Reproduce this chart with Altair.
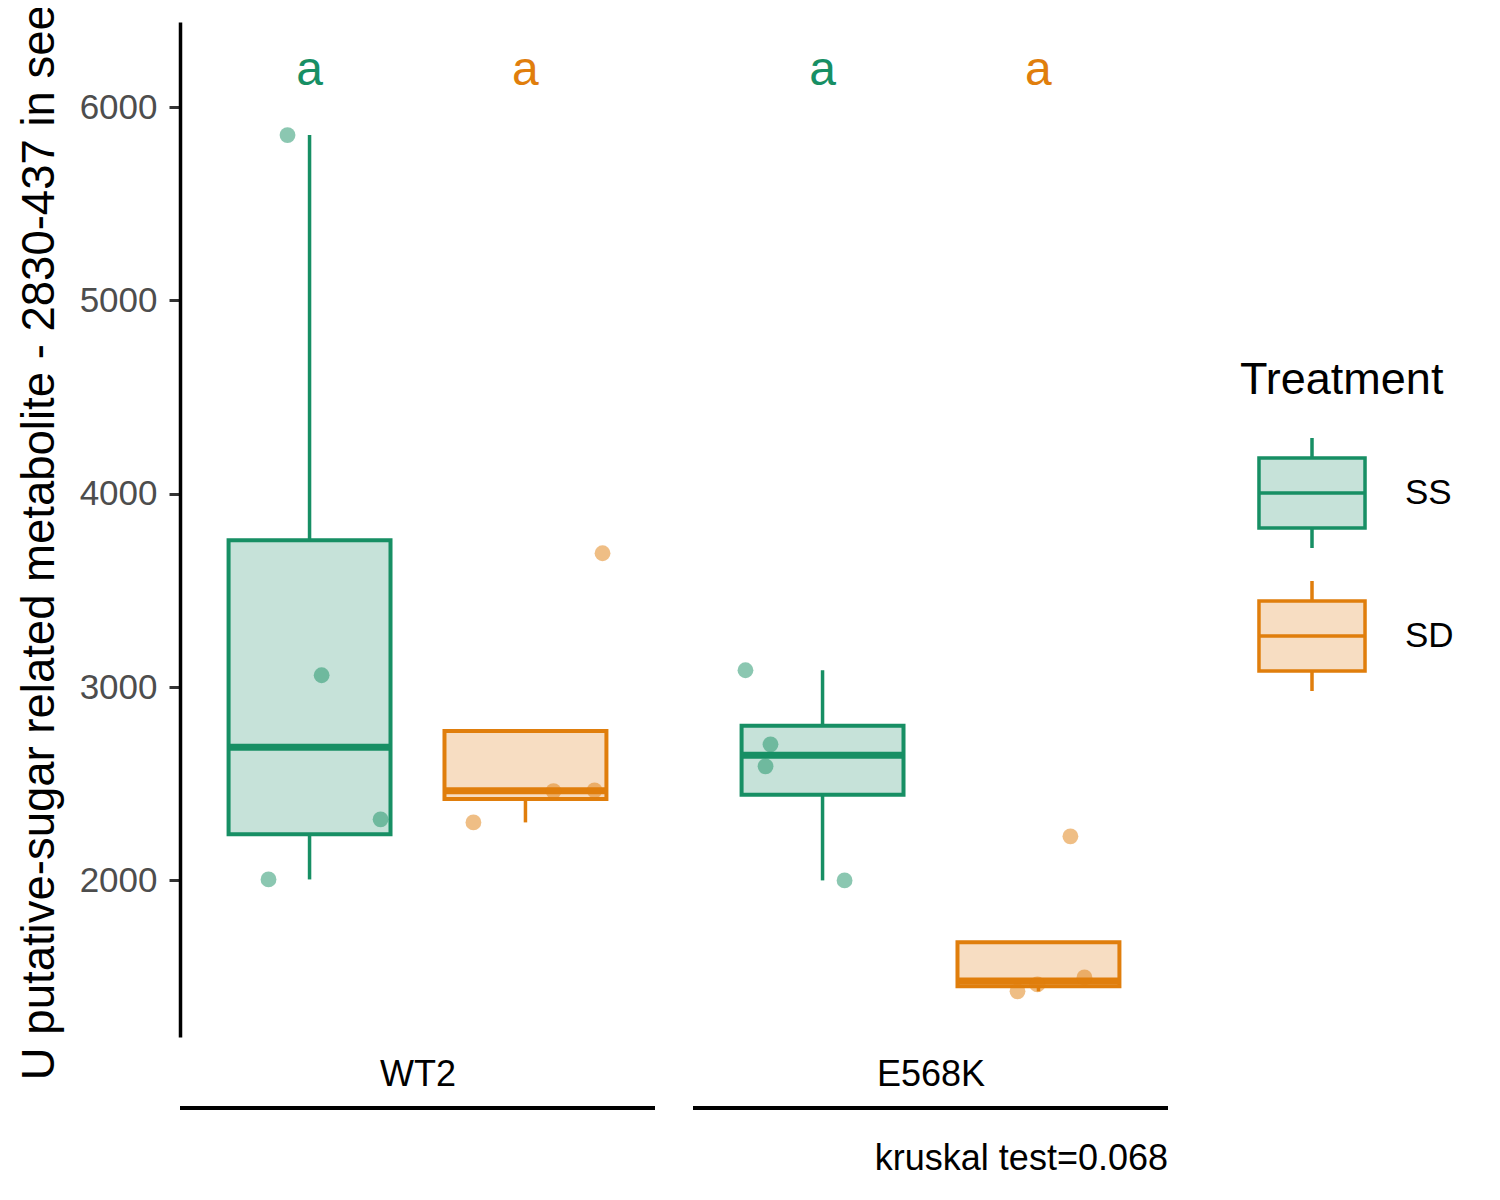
import altair as alt
import numpy as np
import pandas as pd

# ---- data ----
genotypes = ["WT2", "E568K"]
treatments = ["SS", "SD"]
values = {
    ("WT2", "SS"): [5855, 3061, 2316, 2005],
    ("WT2", "SD"): [3692, 2300, 2462, 2466],
    ("E568K", "SS"): [3087, 2704, 2590, 2000],
    ("E568K", "SD"): [2228, 1426, 1462, 1498],
}
jitter = {
    ("WT2", "SS"): [-0.102, 0.056, 0.329, -0.19],
    ("WT2", "SD"): [0.357, -0.241, 0.13, 0.32],
    ("E568K", "SS"): [-0.357, -0.241, -0.264, 0.102],
    ("E568K", "SD"): [0.148, -0.097, -0.005, 0.213],
}
letters = {("WT2", "SS"): "a", ("WT2", "SD"): "a", ("E568K", "SS"): "a", ("E568K", "SD"): "a"}
letter_y = 6186
y_title = "U putative-sugar related metabolite - 2830-437 in seed"
caption = "kruskal test=0.068"

dark = ["#178F64", "#E07E0C"]
light = ["#C6E2D9", "#F7DDC2"]
FONT = "Liberation Sans"

panel_shift = 2.376
box_half = 0.375


def pos(g, t):
    return genotypes.index(g) * panel_shift + 1 + treatments.index(t)


box_rows, whisk_rows, pt_rows, let_rows = [], [], [], []
for g in genotypes:
    for t in treatments:
        v = np.array(values[(g, t)], dtype=float)
        q1, med, q3 = np.quantile(v, [0.25, 0.5, 0.75])
        iqr = q3 - q1
        lo = v[v >= q1 - 1.5 * iqr].min()
        hi = v[v <= q3 + 1.5 * iqr].max()
        p = pos(g, t)
        box_rows.append(dict(Genotype=g, Treatment=t, x=p - box_half, x2=p + box_half,
                             q1=q1, med=med, q3=q3))
        if lo < q1:
            whisk_rows.append(dict(Treatment=t, x=p, y=lo, y2=q1))
        if hi > q3:
            whisk_rows.append(dict(Treatment=t, x=p, y=q3, y2=hi))
        for val, j in zip(values[(g, t)], jitter[(g, t)]):
            pt_rows.append(dict(Treatment=t, x=p + j, y=val))
        let_rows.append(dict(Treatment=t, x=p, y=letter_y, label=letters[(g, t)]))

boxes = pd.DataFrame(box_rows)
whisk = pd.DataFrame(whisk_rows)
pts = pd.DataFrame(pt_rows)
lets = pd.DataFrame(let_rows)
panels = pd.DataFrame([dict(Genotype=g, x=i * panel_shift + 0.4, x2=i * panel_shift + 2.6)
                       for i, g in enumerate(genotypes)])
centers = [i * panel_shift + 1.5 for i in range(len(genotypes))]

xdom = [0.4, panel_shift + 2.6]
xscale = alt.Scale(domain=xdom, nice=False, zero=False)
yscale = alt.Scale(domain=[1190, 6440], nice=False, zero=False)
# colour scale for points/lines/text: data-driven domain (kept apart from the legend scales)
cscale = alt.Scale(range=dark)

label_expr = "datum.value < %f ? '%s' : '%s'" % (panel_shift, genotypes[0], genotypes[1])

xaxis = alt.Axis(values=centers, labelExpr=label_expr, title=None, grid=False, ticks=False,
                 domain=False, labelFontSize=36, labelColor="black", labelFont=FONT,
                 labelPadding=20)
yaxis = alt.Axis(values=[2000, 3000, 4000, 5000, 6000], format="d", title=y_title, grid=False,
                 labelFontSize=35, labelColor="#4D4D4D", labelFont=FONT, labelPadding=12,
                 tickSize=11, tickWidth=3, tickColor="#333333",
                 domainColor="black", domainWidth=3.5,
                 titleFontSize=45.5, titleFontWeight="normal", titleColor="black",
                 titleFont=FONT, titlePadding=16)

legend_path = ("M-0.964,-0.636L0.964,-0.636L0.964,0.636L-0.964,0.636Z "
               "M-0.964,0L0.964,0 M0,-0.636L0,-1 M0,0.636L0,1")

leg = alt.Legend(
    title="Treatment", symbolType=legend_path, orient="none", legendX=1060, legendY=336,
    titleFontSize=45, titleFontWeight="normal", titleColor="black", titleFont=FONT,
    titleLimit=500, labelLimit=300,
    labelFontSize=35, labelColor="black", labelFont=FONT,
    symbolSize=12100, symbolStrokeWidth=3.5, symbolOffset=15,
    rowPadding=19, labelOffset=36, titlePadding=33, padding=0,
)


def col():
    return alt.Color("Treatment:N", scale=cscale, sort=treatments, legend=None)


whisker_layer = alt.Chart(whisk).mark_rule(strokeWidth=3.5).encode(
    x=alt.X("x:Q", scale=xscale, axis=xaxis),
    y=alt.Y("y:Q", scale=yscale, axis=yaxis),
    y2="y2:Q",
    color=col(),
)

box_layer = alt.Chart(boxes).mark_rect(strokeWidth=4).encode(
    x="x:Q", x2="x2:Q", y="q1:Q", y2="q3:Q",
    fill=alt.Fill("Treatment:N", scale=alt.Scale(domain=treatments, range=light),
                  legend=leg),
    stroke=alt.Stroke("Treatment:N", scale=alt.Scale(domain=treatments, range=dark),
                      legend=leg),
)

median_layer = alt.Chart(boxes).mark_rule(strokeWidth=7).encode(
    x="x:Q", x2="x2:Q", y="med:Q",
    color=col(),
)

point_layer = alt.Chart(pts).mark_circle(size=250, opacity=0.5).encode(
    x="x:Q", y="y:Q",
    color=col(),
)

letter_layer = alt.Chart(lets).mark_text(fontSize=48, font=FONT, baseline="middle",
                                         align="center").encode(
    x="x:Q", y="y:Q", text="label:N",
    color=col(),
)

line_layer = alt.Chart(panels).mark_rule(strokeWidth=4, color="black", clip=False).encode(
    x="x:Q", x2="x2:Q", y=alt.value(1086),
)

chart = alt.layer(
    whisker_layer, box_layer, median_layer, point_layer, letter_layer, line_layer
).properties(
    width=988, height=1015,
    title=alt.TitleParams(caption, orient="bottom", anchor="end", frame="group",
                          fontSize=36, fontWeight="normal", font=FONT, color="black",
                          offset=32),
    autosize=alt.AutoSizeParams(type="none"),
    padding={"left": 172, "top": 14, "right": 324, "bottom": 155},
).configure_view(
    stroke=None
)

chart.save("out.html", embed_options={"renderer": "svg", "actions": False})
